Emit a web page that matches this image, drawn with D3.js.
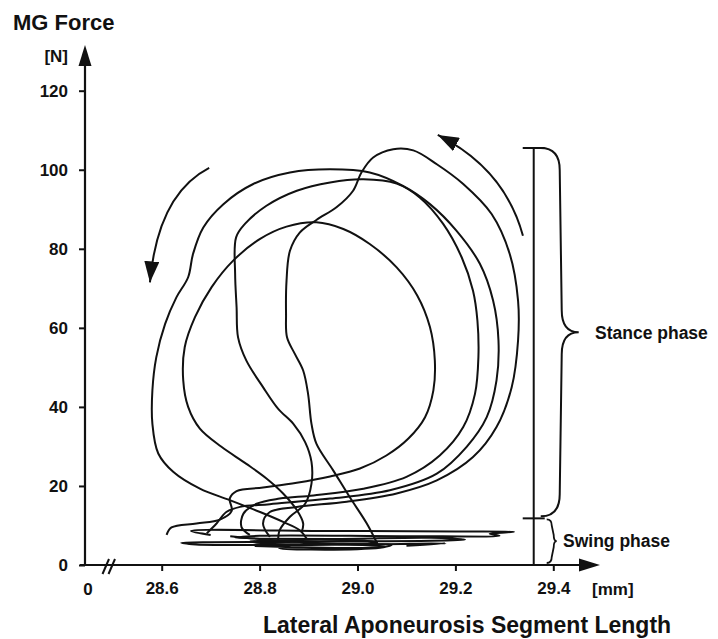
<!doctype html>
<html lang="en">
<head>
<meta charset="utf-8">
<title>MG Force vs Lateral Aponeurosis Segment Length</title>
<style>
  body { margin: 0; background: #fff; }
  svg { display: block; }
  text { font-family: "Liberation Sans", Arial, sans-serif; font-weight: bold; fill: #111; }
</style>
</head>
<body>
<script src="https://d3js.org/d3.v7.min.js"></script>
<script>
// tick values
var xTicks = [28.6, 28.8, 29.0, 29.2, 29.4];
var yTicks = [0, 20, 40, 60, 80, 100, 120];

// stance loops, [length mm, force N]
var loop1 = [[28.610,7.6],[28.620,9.5],[28.671,10.5],[28.719,11.5],[28.743,13.7],[28.739,16.8],[28.753,18.7],
  [28.807,19.6],[28.876,20.8],[28.944,22.4],[29.005,24.4],[29.059,27.7],[29.104,32.0],[29.138,37.4],[29.155,44.2],
  [29.158,51.7],[29.148,60.2],[29.122,68.2],[29.080,75.3],[29.025,81.2],[28.971,85.0],[28.916,86.7],[28.855,85.6],
  [28.801,82.5],[28.746,77.0],[28.702,70.3],[28.668,62.7],[28.647,55.1],[28.644,46.7],[28.654,40.0],[28.678,34.5],
  [28.722,29.9],[28.773,25.6],[28.814,21.9],[28.848,18.1],[28.876,13.9],[28.889,10.5],[28.886,8.4]];

var loop2 = [[28.780,7.6],[28.763,9.6],[28.767,13.0],[28.794,15.5],[28.841,16.8],[28.910,17.6],[29.012,19.3],
  [29.100,22.3],[29.168,27.7],[29.216,34.9],[29.240,43.3],[29.247,52.6],[29.245,61.8],[29.236,69.4],[29.213,77.8],
  [29.175,86.3],[29.127,93.0],[29.080,96.5],[29.012,97.6],[28.944,96.8],[28.876,94.7],[28.814,90.9],[28.770,86.3],
  [28.752,82.9],[28.750,73.6],[28.753,65.2],[28.756,57.6],[28.773,51.7],[28.807,45.0],[28.838,39.5],[28.869,35.7],
  [28.893,31.1],[28.906,26.1],[28.906,20.6],[28.893,15.5],[28.862,12.2],[28.841,8.8],[28.838,6.3]];

var loop3 = [[28.692,8.0],[28.712,10.5],[28.732,13.4],[28.760,14.7],[28.821,15.4],[28.944,16.8],[29.066,18.9],
  [29.162,23.1],[29.223,29.9],[29.264,37.4],[29.284,46.7],[29.288,56.8],[29.277,66.9],[29.250,76.2],[29.202,84.6],
  [29.148,91.3],[29.093,95.9],[29.025,99.3],[28.944,100.1],[28.862,99.3],[28.787,96.4],[28.726,91.3],[28.685,85.4],
  [28.664,78.7],[28.654,72.8],[28.630,67.7],[28.607,61.0],[28.589,52.6],[28.581,44.2],[28.581,35.7],[28.593,28.2],
  [28.624,23.5],[28.678,19.3],[28.739,16.4],[28.801,13.4],[28.848,10.9],[28.882,8.8],[28.896,6.7]];

var loop4 = [[28.821,7.1],[28.807,10.5],[28.821,13.4],[28.876,14.7],[28.978,16.0],[29.080,18.1],[29.162,21.4],
  [29.236,27.3],[29.284,34.9],[29.315,45.0],[29.328,56.8],[29.328,66.9],[29.311,78.7],[29.274,88.8],[29.216,96.4],
  [29.162,101.4],[29.114,104.9],[29.073,105.2],[29.032,103.1],[29.008,99.3],[28.991,94.7],[28.957,90.5],[28.916,87.3],
  [28.882,84.1],[28.862,79.5],[28.855,71.9],[28.854,63.5],[28.856,57.6],[28.872,53.4],[28.889,49.2],[28.899,43.3],
  [28.906,35.7],[28.916,30.7],[28.950,24.0],[28.984,17.2],[29.019,10.5],[29.042,5.0]];

// swing phase traces
var swing1 = [[28.70,7.6],[28.66,8.6],[28.95,8.6],[29.20,8.5],[29.32,8.4],[29.27,7.9],[29.29,7.4],[29.10,7.3],
  [28.80,7.4],[28.75,6.9],[28.95,6.6],[29.15,6.9],[29.22,6.4],[28.90,5.9],[28.64,5.6],[28.67,5.2],[29.00,5.2],
  [29.18,5.5],[29.10,4.9]];
var swing2 = [[28.79,4.8],[29.05,4.5],[29.07,5.1],[28.82,5.4],[28.78,6.0],[29.02,6.1],[29.04,5.6],[28.86,5.0],
  [28.84,4.3],[29.00,4.0],[29.06,4.6],[28.90,5.7],[28.80,6.6],[28.74,7.3]];

// phase marker
var markerLength = 29.36;
var stanceRange = [11.8, 105.5];

// direction arrows [start, control, tip]
var arrowLeft = [[28.697,100.5],[28.592,93.8],[28.576,71.5]];
var arrowRight = [[29.338,83.3],[29.301,100.2],[29.164,108.8]];

var W = 718, H = 639;
var svg = d3.select("body").append("svg").attr("width", W).attr("height", H);

var x = d3.scaleLinear().domain([28.6, 29.4]).range([161.7, 553.3]);
var y = d3.scaleLinear().domain([0, 120]).range([565, 90.7]);
var axisX = 85;

// arrowhead
svg.append("defs").append("marker")
    .attr("id", "head")
    .attr("markerUnits", "userSpaceOnUse")
    .attr("markerWidth", 22).attr("markerHeight", 15)
    .attr("refX", 21).attr("refY", 7.5)
    .attr("orient", "auto")
  .append("path").attr("d", "M0,0 L21,7.5 L0,15 Z").attr("fill", "#111");

// y axis
var gy = svg.append("g").attr("transform", "translate(" + axisX + ",0)")
    .call(d3.axisLeft(y).tickValues(yTicks).tickSize(6).tickPadding(11));
gy.select(".domain").remove();
gy.selectAll(".tick line").attr("stroke", "#111").attr("stroke-width", 2);
gy.selectAll(".tick text").attr("font-size", 17).attr("font-family", null);
svg.append("line").attr("x1", axisX).attr("x2", axisX).attr("y1", y(0) + 1).attr("y2", 60)
    .attr("stroke", "#111").attr("stroke-width", 2.2);
svg.append("path").attr("d", "M" + axisX + ",45 L" + (axisX - 6.5) + ",66 L" + (axisX + 6.5) + ",66 Z").attr("fill", "#111");

// x axis
var gx = svg.append("g").attr("transform", "translate(0," + y(0) + ")")
    .call(d3.axisBottom(x).tickValues(xTicks).tickFormat(d3.format(".1f")).tickSize(6).tickPadding(11));
gx.select(".domain").remove();
gx.selectAll(".tick line").attr("stroke", "#111").attr("stroke-width", 2);
gx.selectAll(".tick text").attr("font-size", 17).attr("font-family", null);
svg.append("line").attr("x1", axisX - 5).attr("x2", 585).attr("y1", y(0)).attr("y2", y(0))
    .attr("stroke", "#111").attr("stroke-width", 2.2);
svg.append("path").attr("d", "M600," + y(0) + " L579," + (y(0) - 6.5) + " L579," + (y(0) + 6.5) + " Z").attr("fill", "#111");

// axis break
[0, 6].forEach(function(o) {
    svg.append("line").attr("x1", 102.5 + o).attr("y1", y(0) + 9).attr("x2", 109 + o).attr("y2", y(0) - 6)
        .attr("stroke", "#111").attr("stroke-width", 2);
});
svg.append("text").attr("x", 88).attr("y", 595).attr("text-anchor", "middle").attr("font-size", 17).text("0");

// axis labels
svg.append("text").attr("x", 13).attr("y", 30).attr("font-size", 22).text("MG Force");
svg.append("text").attr("x", 68).attr("y", 62).attr("text-anchor", "end").attr("font-size", 17).text("[N]");
svg.append("text").attr("x", 592).attr("y", 595).attr("font-size", 17).text("[mm]");
svg.append("text").attr("x", 263).attr("y", 633).attr("font-size", 23).text("Lateral Aponeurosis Segment Length");

// loops
var line = d3.line()
    .x(function(d) { return x(d[0]); })
    .y(function(d) { return y(d[1]); })
    .curve(d3.curveCatmullRom.alpha(0.5));

svg.selectAll("path.trace")
    .data([loop1, loop2, loop3, loop4, swing1, swing2])
    .enter().append("path")
    .attr("class", "trace")
    .attr("d", line)
    .attr("fill", "none")
    .attr("stroke", "#111")
    .attr("stroke-width", 2)
    .attr("stroke-linejoin", "round");

// direction arrows
[arrowLeft, arrowRight].forEach(function(a) {
    var p = d3.path();
    p.moveTo(x(a[0][0]), y(a[0][1]));
    p.quadraticCurveTo(x(a[1][0]), y(a[1][1]), x(a[2][0]), y(a[2][1]));
    svg.append("path").attr("d", p.toString()).attr("fill", "none")
        .attr("stroke", "#111").attr("stroke-width", 2).attr("marker-end", "url(#head)");
});

// stance / swing marker
var mx = x(markerLength);
svg.append("line").attr("x1", mx).attr("x2", mx).attr("y1", y(0)).attr("y2", y(stanceRange[1]))
    .attr("stroke", "#111").attr("stroke-width", 2);
[stanceRange[1], stanceRange[0]].forEach(function(v) {
    svg.append("line").attr("x1", mx - 11).attr("x2", mx + 11).attr("y1", y(v)).attr("y2", y(v))
        .attr("stroke", "#111").attr("stroke-width", 2);
});

function brace(x0, y0, y1, w, c) {
    var m = (y0 + y1) / 2, h = w * 0.5;
    var p = d3.path();
    p.moveTo(x0, y0);
    p.quadraticCurveTo(x0 + h, y0, x0 + h, y0 + c);
    p.lineTo(x0 + h + 2, m - c);
    p.quadraticCurveTo(x0 + h + 2, m, x0 + w, m);
    p.quadraticCurveTo(x0 + h + 2, m, x0 + h + 2, m + c);
    p.lineTo(x0 + h, y1 - c);
    p.quadraticCurveTo(x0 + h, y1, x0, y1);
    return p.toString();
}
svg.append("path").attr("d", brace(mx + 7, y(stanceRange[1]), y(stanceRange[0]) - 2, 38, 22))
    .attr("fill", "none").attr("stroke", "#111").attr("stroke-width", 2);
svg.append("path").attr("d", brace(mx + 13, y(stanceRange[0]) + 1, y(0) - 2, 10, 6))
    .attr("fill", "none").attr("stroke", "#111").attr("stroke-width", 1.8);

svg.append("text").attr("x", 595).attr("y", y(60) + 11).attr("font-size", 17.5).text("Stance phase");
svg.append("text").attr("x", 563).attr("y", 547).attr("font-size", 17.5).text("Swing phase");
</script>
</body>
</html>
